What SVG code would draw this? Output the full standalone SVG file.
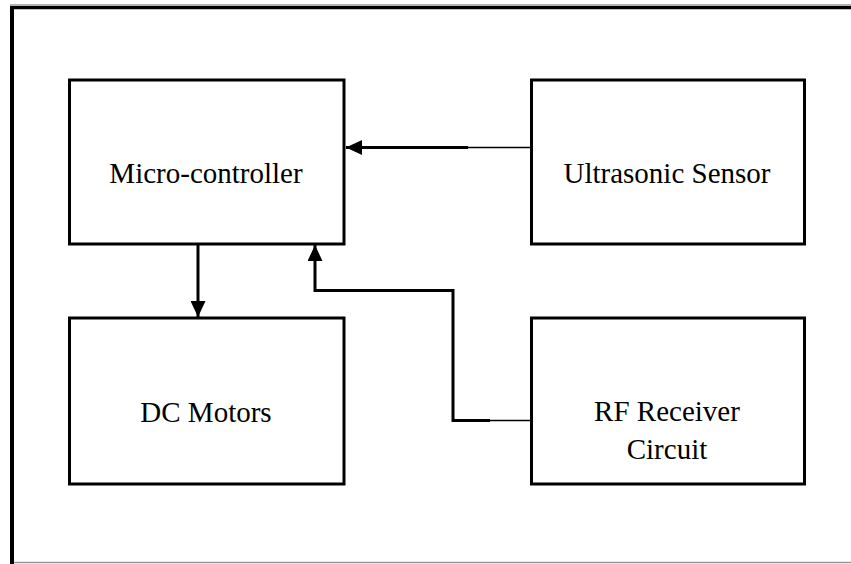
<svg xmlns="http://www.w3.org/2000/svg" width="851" height="564" viewBox="0 0 851 564">
<style>
.box{fill:#fff;stroke:#000;stroke-width:3}
.lbl{font-family:"Liberation Serif","Times New Roman",serif;font-size:29px;fill:#000;text-anchor:middle}
.c{fill:none;stroke:#000;stroke-width:3}
.t{fill:none;stroke:#000;stroke-width:1.6}
</style>
<defs>
<marker id="ah" markerWidth="16" markerHeight="15" refX="16" refY="7.5" orient="auto" markerUnits="userSpaceOnUse">
<path d="M0,0 L16,7.5 L0,15 Z" fill="#000"/>
</marker>
</defs>
<rect width="851" height="564" fill="#fff"/>
<g id="frame">
<line x1="10" y1="5" x2="851" y2="5" stroke="#999" stroke-width="1.5"/>
<line x1="10" y1="7.7" x2="851" y2="7.7" stroke="#000" stroke-width="3.2"/>
<line x1="12" y1="6" x2="12" y2="564" stroke="#000" stroke-width="4"/>
<line x1="14" y1="562.5" x2="851" y2="562.5" stroke="#999" stroke-width="1.5"/>
</g>
<g id="micro">
<rect class="box" x="69.5" y="80" width="274.5" height="164"/>
<text class="lbl" x="206" y="183">Micro-controller</text>
</g>
<g id="ultra">
<rect class="box" x="531.5" y="80" width="273" height="164"/>
<text class="lbl" x="667" y="183">Ultrasonic Sensor</text>
</g>
<g id="dc">
<rect class="box" x="69.5" y="318" width="274.5" height="166"/>
<text class="lbl" x="206" y="422">DC Motors</text>
</g>
<g id="rf">
<rect class="box" x="531.5" y="318" width="273" height="166"/>
<text class="lbl" x="667" y="421">RF Receiver</text>
<text class="lbl" x="667" y="459">Circuit</text>
</g>
<g id="connectors">
<line class="t" x1="531" y1="147.5" x2="467" y2="147.5"/>
<line class="c" x1="468" y1="147.5" x2="346" y2="147.5" marker-end="url(#ah)"/>
<line class="c" x1="198" y1="244" x2="198" y2="317" marker-end="url(#ah)"/>
<line class="t" x1="531" y1="420.5" x2="489" y2="420.5"/>
<path class="c" d="M490,420.5 H453 V290.5 H315 V245" marker-end="url(#ah)"/>
</g>
</svg>
